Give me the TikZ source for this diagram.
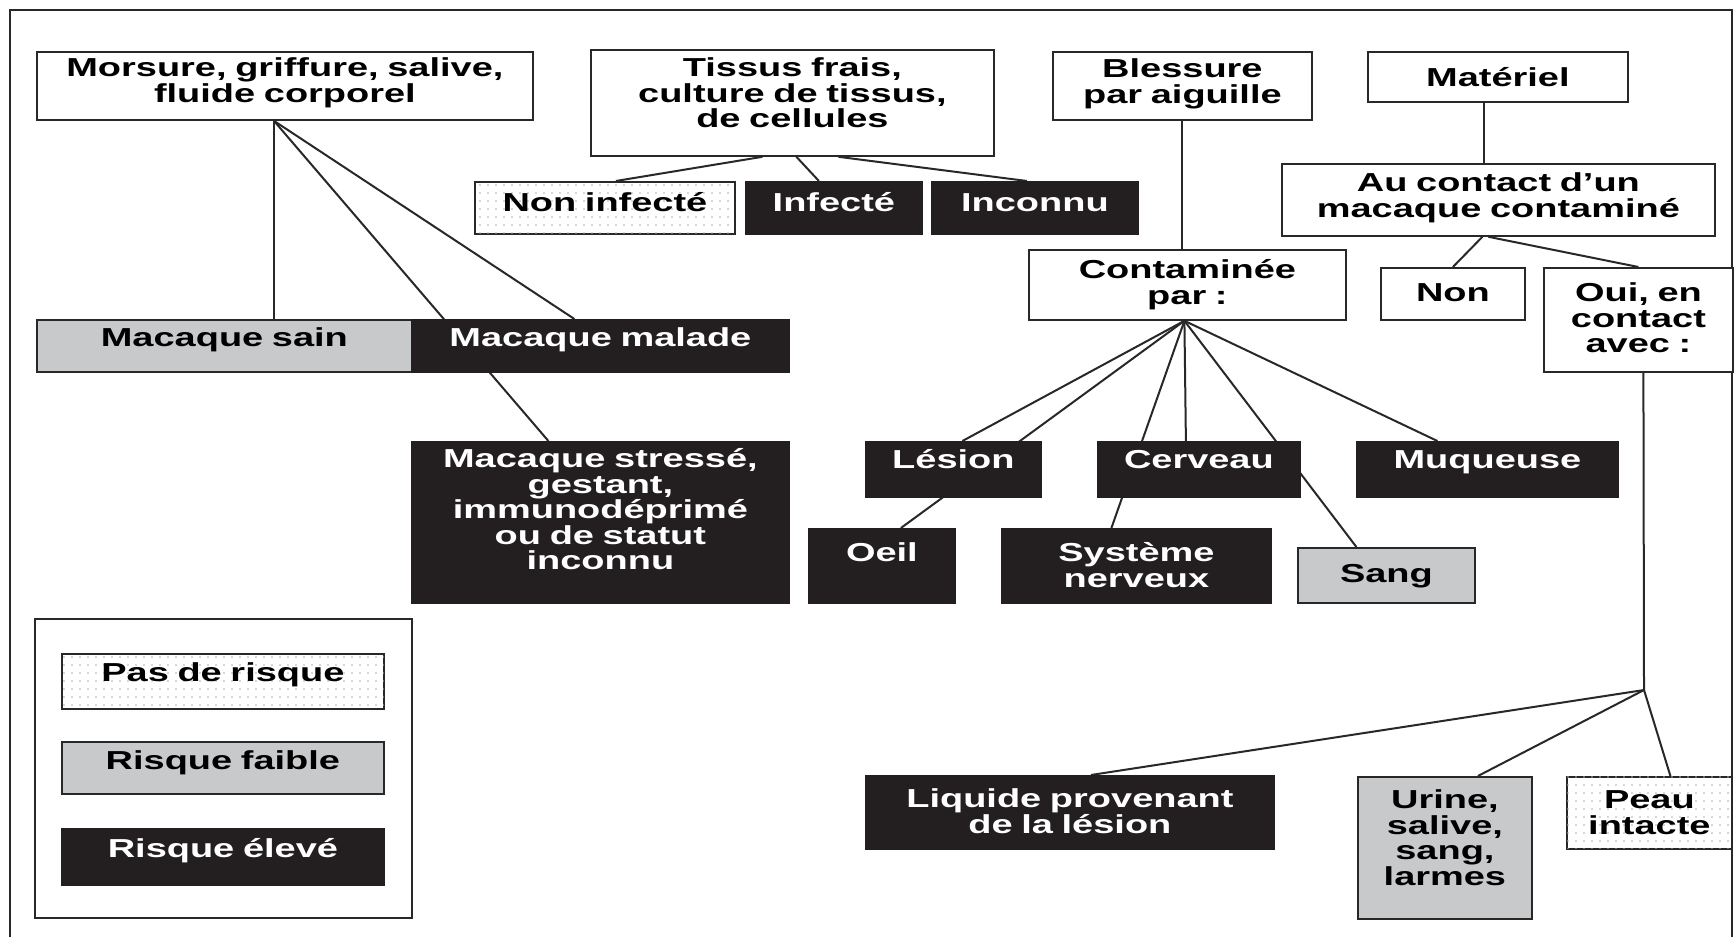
\documentclass[tikz,border=0pt]{standalone}
\usepackage{fontspec}
\newfontfamily\diagfont{Liberation Sans}[FakeStretch=1.46]
\usetikzlibrary{backgrounds,patterns.meta}
\definecolor{linegray}{RGB}{40,40,40}
\definecolor{lowgray}{RGB}{200,201,203}
\definecolor{highblack}{RGB}{35,31,32}
\definecolor{dotgray}{RGB}{175,175,175}
\tikzset{box/.style={draw=linegray,line width=1.8pt,anchor=north west,inner sep=0pt,align=center,font=\diagfont\bfseries\fontsize{26}{25.5}\selectfont},whitebox/.style={box,fill=white},norisk/.style={box,fill=white,postaction={pattern={Dots[distance=8pt,radius=0.9pt]},pattern color=dotgray}},lowrisk/.style={box,fill=lowgray},highrisk/.style={box,fill=highblack,draw=highblack,text=white},dims/.style n args={3}{text width=#1pt,text height=#2pt,text depth=#3pt},link/.style={draw=linegray,line width=2pt},frame/.style={draw=linegray,line width=2.2pt}}
\begin{document}
\begin{tikzpicture}[x=1pt,y=-1pt]
\useasboundingbox (0,0) rectangle (1736,937);
\draw[frame] (10,937)--(10,10)--(1732,10)--(1732,937);
\node[whitebox,dims={496}{25}{43}] (morsure) at (36,51)
{Morsure, griffure, salive,\\fluide corporel};
\node[whitebox,dims={403}{27}{79}] (tissus) at (590,49)
{Tissus frais,\\culture de tissus,\\de cellules};
\node[whitebox,dims={259}{26}{42}] (blessure) at (1052,51)
{Blessure\\par aiguille};
\node[whitebox,dims={260}{35}{15}] (materiel) at (1367,51)
{Matériel};
\node[whitebox,dims={433}{28}{44}] (contact) at (1281,163)
{Au contact d’un\\macaque contaminé};
\node[norisk,dims={260}{30}{22}] (noninf) at (474,181)
{Non infecté};
\node[highrisk,dims={176}{30}{22}] (infecte) at (745,181)
{Infecté};
\node[highrisk,dims={206}{30}{22}] (inconnu) at (931,181)
{Inconnu};
\node[whitebox,dims={317}{29}{41}] (contam) at (1028,249)
{Contaminée\\par :};
\node[whitebox,dims={144}{34}{18}] (non) at (1380,267)
{Non};
\node[whitebox,dims={189}{34}{70}] (oui) at (1543,267)
{Oui, en\\contact\\avec :};
\node[lowrisk,dims={375}{27}{25}] (sain) at (36,319)
{Macaque sain};
\node[highrisk,dims={377}{27}{25}] (malade) at (411,319)
{Macaque malade};
\node[highrisk,dims={377}{26}{135}] (stresse) at (411,441)
{Macaque stressé,\\gestant,\\immunodéprimé\\ou de statut\\inconnu};
\node[highrisk,dims={175}{27}{28}] (lesion) at (865,441)
{Lésion};
\node[highrisk,dims={202}{27}{28}] (cerveau) at (1097,441)
{Cerveau};
\node[highrisk,dims={261}{27}{28}] (muqueuse) at (1356,441)
{Muqueuse};
\node[highrisk,dims={146}{33}{41}] (oeil) at (808,528)
{Oeil};
\node[highrisk,dims={269}{33}{41}] (nerveux) at (1001,528)
{Système\\nerveux};
\node[lowrisk,dims={177}{35}{20}] (sang) at (1297,547)
{Sang};
\node[highrisk,dims={408}{32}{41}] (liquide) at (865,775)
{Liquide provenant\\de la lésion};
\node[lowrisk,dims={174}{32}{110}] (urine) at (1357,776)
{Urine,\\salive,\\sang,\\larmes};
\node[norisk,dims={165}{32}{40}] (peau) at (1566,776)
{Peau\\intacte};
\draw[frame] (35,619) rectangle (412,918);
\node[norisk,dims={322}{28}{27}] (keynone) at (61,653)
{Pas de risque};
\node[lowrisk,dims={322}{28}{24}] (keylow) at (61,741)
{Risque faible};
\node[highrisk,dims={322}{29}{27}] (keyhigh) at (61,828)
{Risque élevé};
\coordinate (mtop) at ([xshift=-11pt]morsure.south);
\coordinate (ctop) at ([xshift=-3pt]contam.south);
\coordinate (hub) at (1644,690);
\begin{scope}[on background layer]
\draw[link] (mtop)--(mtop |- sain.north);
\draw[link] (mtop)--([xshift=-26pt]malade.north);
\draw[link] (mtop)--([xshift=-52pt]stresse.north);
\draw[link] ([xshift=-30pt]tissus.south)--([xshift=11pt]noninf.north);
\draw[link] ([xshift=4pt]tissus.south)--([xshift=-15pt]infecte.north);
\draw[link] ([xshift=46pt]tissus.south)--([xshift=-8pt]inconnu.north);
\draw[link] (blessure.south)--(blessure.south |- contam.north);
\draw[link] ([xshift=-14pt]materiel.south)--([xshift=-14pt]materiel.south |- contact.north);
\draw[link] ([xshift=-16pt]contact.south)--(non.north);
\draw[link] ([xshift=-10pt]contact.south)--(oui.north);
\draw[link] (ctop)--([xshift=9pt]lesion.north);
\draw[link] (ctop)--([xshift=19pt]oeil.north);
\draw[link] (ctop)--([xshift=-13pt]cerveau.north);
\draw[link] (ctop)--([xshift=-25pt]nerveux.north);
\draw[link] (ctop)--([xshift=-30pt]sang.north);
\draw[link] (ctop)--([xshift=-50pt]muqueuse.north);
\draw[link] ([xshift=5pt]oui.south)--(hub);
\draw[link] (hub)--([xshift=21pt]liquide.north);
\draw[link] (hub)--([xshift=33pt]urine.north);
\draw[link] (hub)--([xshift=21pt]peau.north);
\end{scope}
\end{tikzpicture}
\end{document}
